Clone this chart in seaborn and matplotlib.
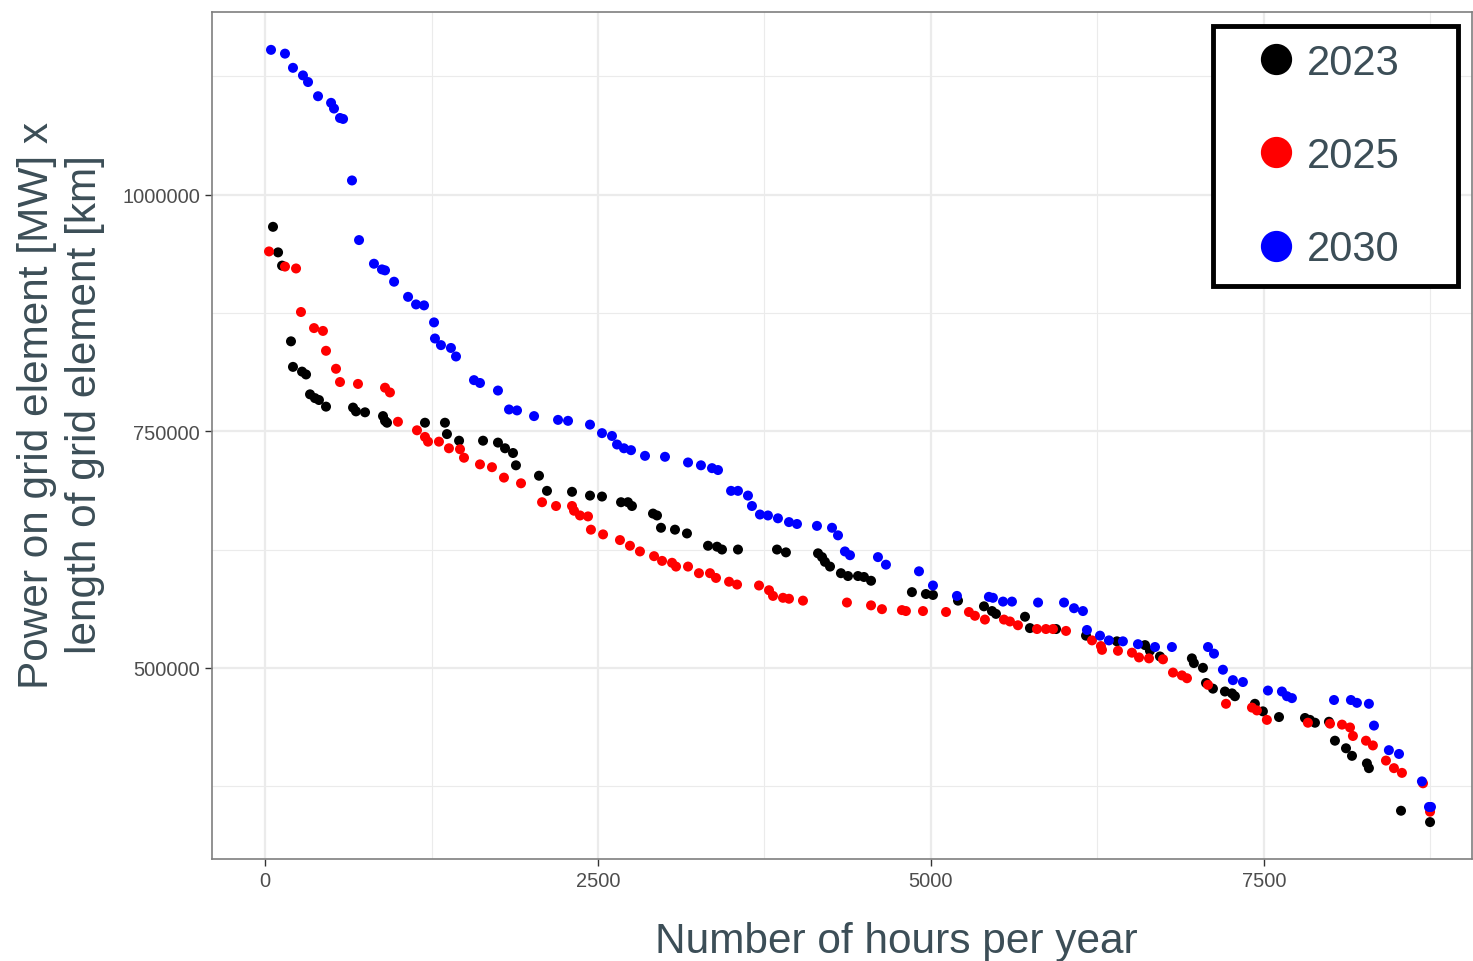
import numpy as np
import pandas as pd
import seaborn as sns
import matplotlib.pyplot as plt
from matplotlib.lines import Line2D

# hours per year (x) and power x length (y)
hours_2023 = [60, 98, 128, 195, 210, 278, 308, 338, 375, 405, 458, 661, 683, 751, 886, 901, 916,
              1201, 1351, 1366, 1457, 1637, 1749, 1802, 1862, 1884, 2057, 2117, 2305, 2440, 2530,
              2673, 2725, 2755, 2913, 2943, 2973, 3078, 3168, 3326, 3394, 3431, 3551, 3844, 3911,
              4152, 4182, 4204, 4242, 4324, 4377, 4452, 4497, 4550, 4857, 4962, 5015, 5203, 5398,
              5458, 5488, 5706, 5743, 5939, 6164, 6396, 6607, 6644, 6719, 6959, 6974, 7042, 7065,
              7117, 7207, 7260, 7282, 7432, 7492, 7613, 7808, 7845, 7883, 7988, 8033, 8116, 8161,
              8273, 8288, 8529, 8747]
power_2023 = [966000, 939000, 925000, 845000, 818000, 813000, 810000, 789000, 785000, 783000,
              776000, 775000, 771000, 770000, 766000, 761000, 759000, 759000, 759000, 747000,
              740000, 740000, 738000, 732000, 727000, 714000, 703000, 687000, 686000, 682000,
              681000, 675000, 675000, 671000, 663000, 661000, 648000, 646000, 642000, 629000,
              628000, 625000, 625000, 625000, 622000, 621000, 617000, 612000, 607000, 600000,
              597000, 597000, 596000, 592000, 580000, 578000, 577000, 571000, 565000, 560000,
              557000, 554000, 542000, 541000, 534000, 528000, 524000, 518000, 512000, 510000,
              505000, 500000, 484000, 478000, 475000, 473000, 470000, 462000, 454000, 448000,
              447000, 445000, 442000, 443000, 423000, 415000, 407000, 399000, 394000, 349000,
              337000]

hours_2025 = [30, 150, 233, 270, 368, 435, 458, 533, 563, 698, 901, 938, 998, 1141, 1201, 1224,
              1306, 1381, 1464, 1494, 1614, 1704, 1794, 1922, 2080, 2185, 2305, 2320, 2365, 2425,
              2447, 2538, 2665, 2740, 2815, 2921, 2981, 3056, 3086, 3176, 3258, 3341, 3386, 3484,
              3544, 3709, 3784, 3814, 3889, 3934, 4039, 4369, 4550, 4632, 4782, 4812, 4940, 5113,
              5285, 5330, 5405, 5548, 5593, 5653, 5796, 5863, 5916, 6014, 6209, 6276, 6284, 6404,
              6509, 6562, 6637, 6742, 6817, 6884, 6922, 7080, 7215, 7410, 7447, 7522, 7830, 7996,
              8086, 8146, 8168, 8266, 8318, 8416, 8476, 8536, 8694, 8747]
power_2025 = [940000, 924000, 922000, 876000, 859000, 856000, 835000, 816000, 802000, 800000,
              796000, 791000, 760000, 751000, 744000, 739000, 739000, 732000, 731000, 722000,
              715000, 712000, 701000, 695000, 675000, 671000, 671000, 666000, 661000, 660000,
              646000, 641000, 635000, 629000, 623000, 618000, 613000, 611000, 607000, 607000,
              600000, 600000, 595000, 591000, 588000, 587000, 582000, 576000, 574000, 573000,
              571000, 569000, 566000, 562000, 561000, 560000, 560000, 559000, 559000, 555000,
              551000, 551000, 549000, 545000, 541000, 541000, 541000, 539000, 529000, 523000,
              519000, 518000, 516000, 511000, 510000, 509000, 495000, 492000, 489000, 482000,
              462000, 458000, 455000, 445000, 442000, 441000, 440000, 437000, 428000, 423000,
              418000, 402000, 394000, 389000, 378000, 348000]

hours_2030 = [45, 150, 210, 285, 323, 398, 496, 518, 563, 586, 653, 706, 818, 878, 901, 969,
              1074, 1134, 1194, 1269, 1276, 1321, 1396, 1434, 1569, 1614, 1749, 1832, 1892, 2020,
              2200, 2275, 2440, 2530, 2605, 2643, 2695, 2748, 2853, 3003, 3176, 3273, 3356, 3401,
              3499, 3551, 3626, 3656, 3716, 3776, 3851, 3934, 3994, 4144, 4257, 4302, 4354, 4392,
              4602, 4662, 4910, 5015, 5195, 5435, 5465, 5541, 5608, 5804, 5999, 6074, 6141, 6171,
              6269, 6336, 6441, 6554, 6682, 6809, 7080, 7125, 7192, 7267, 7342, 7530, 7635, 7673,
              7710, 8026, 8153, 8198, 8288, 8326, 8438, 8514, 8686, 8739, 8754]
power_2030 = [1153000, 1149000, 1134000, 1126000, 1119000, 1104000, 1097000, 1091000, 1081000,
              1080000, 1015000, 952000, 927000, 921000, 920000, 908000, 892000, 884000, 883000,
              865000, 848000, 841000, 838000, 829000, 804000, 801000, 793000, 773000, 772000,
              766000, 762000, 761000, 757000, 748000, 745000, 736000, 732000, 730000, 724000,
              723000, 717000, 714000, 711000, 709000, 687000, 687000, 682000, 671000, 662000,
              661000, 658000, 654000, 652000, 650000, 648000, 640000, 623000, 619000, 617000,
              609000, 602000, 587000, 576000, 575000, 574000, 570000, 570000, 569000, 569000,
              563000, 560000, 540000, 534000, 529000, 528000, 525000, 522000, 522000, 522000,
              515000, 498000, 487000, 485000, 476000, 475000, 470000, 468000, 466000, 466000,
              463000, 462000, 439000, 413000, 409000, 380000, 353000, 353000]

years = ['2023', '2025', '2030']
colors = {'2023': 'black', '2025': 'red', '2030': 'blue'}

df = pd.concat([
    pd.DataFrame({'hours': hours_2023, 'power': power_2023, 'year': '2023'}),
    pd.DataFrame({'hours': hours_2025, 'power': power_2025, 'year': '2025'}),
    pd.DataFrame({'hours': hours_2030, 'power': power_2030, 'year': '2030'}),
])

sns.set_style('white')
plt.rcParams['font.family'] = ['Liberation Sans', 'DejaVu Sans']

fig = plt.figure(figsize=(14.73, 9.62), dpi=100)
ax = fig.add_axes([212 / 1473, 1 - 860 / 962, 1260 / 1473, 847 / 962])

sns.scatterplot(data=df, x='hours', y='power', hue='year', palette=colors,
                hue_order=years, s=52, linewidth=0, ax=ax, legend=False, zorder=3)

ax.set_xlim(-398, 9062)
ax.set_ylim(298000, 1193000)

ax.set_xticks([0, 2500, 5000, 7500])
ax.set_xticks([1250, 3750, 6250, 8750], minor=True)
ax.set_yticks([500000, 750000, 1000000])
ax.set_yticks([375000, 625000, 875000, 1125000], minor=True)
ax.grid(which='major', color='#EBEBEB', lw=1.6, zorder=0)
ax.grid(which='minor', color='#EBEBEB', lw=0.8, zorder=0)
ax.set_axisbelow(True)
ax.tick_params(which='major', labelsize=14.4, labelcolor='#4D4D4D', color='#333333',
               length=5, width=1, left=True, bottom=True)
ax.tick_params(which='minor', length=0)
ax.yaxis.set_major_formatter(plt.FuncFormatter(lambda v, p: f'{int(v)}'))

for sp in ax.spines.values():
    sp.set_color('#7F7F7F')
    sp.set_linewidth(1.2)

title_col = '#3C4E57'
ax.set_xlabel('Number of hours per year', fontsize=30.5, color=title_col)
ax.xaxis.label.set_va('center')
ax.xaxis.set_label_coords((896 - 212) / 1260, -(942 - 860) / 847)
ax.set_ylabel('Power on grid element [MW] x\nlength of grid element [km]',
              fontsize=30.5, color=title_col, linespacing=1.25)
ax.yaxis.label.set_va('center')
ax.yaxis.label.set_ha('center')
ax.yaxis.set_label_coords(-(212 - 61) / 1260, (860 - 405) / 847)

handles = [Line2D([], [], ls='', marker='o', markersize=21.5, color=colors[y]) for y in years]
leg = ax.legend(handles, years, loc='upper left',
                bbox_to_anchor=((1213 - 212) / 1260, (860 - 283) / 847,
                                (1458 - 1213) / 1260, (283 - 27) / 847),
                mode='expand', fontsize=30, labelcolor=title_col, frameon=True,
                fancybox=False, edgecolor='black', framealpha=1, borderpad=0.4,
                handlelength=2.2, handletextpad=-0.35, labelspacing=1.28, borderaxespad=0)
leg.get_frame().set_linewidth(3.5)

fig.savefig('out.png', dpi=100)
